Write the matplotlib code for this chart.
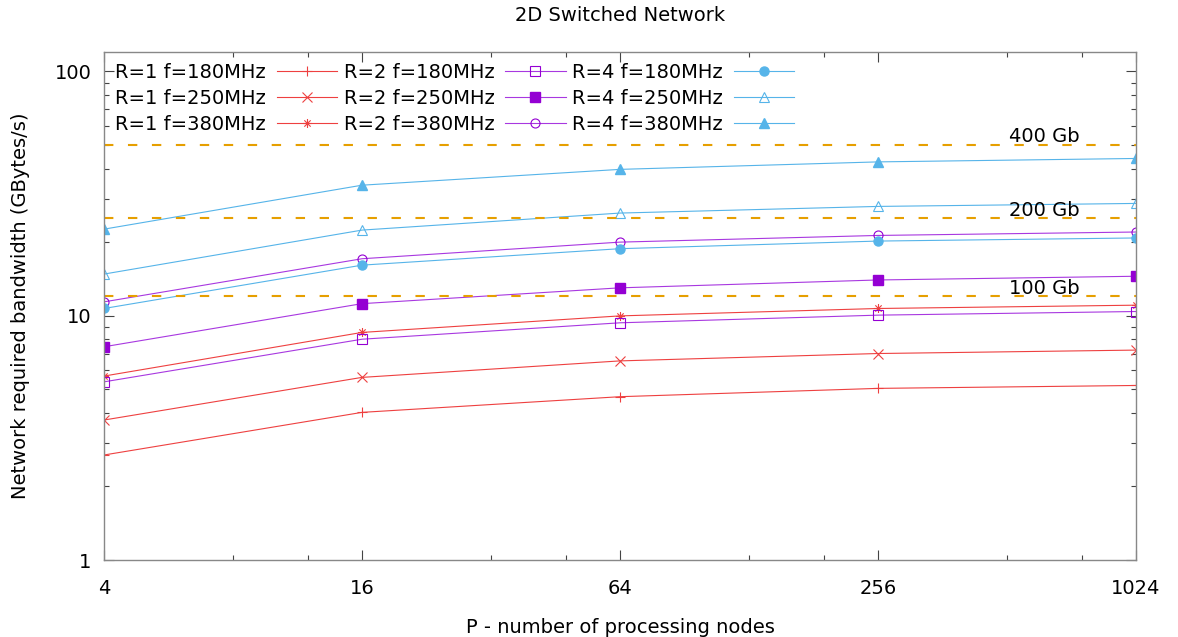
import matplotlib
matplotlib.use("Agg")
import matplotlib.pyplot as plt
from matplotlib.path import Path
from matplotlib.ticker import FixedLocator, NullFormatter
import matplotlib.transforms as mtransforms

# Datos
nodes = [4, 16, 64, 256, 1024]

r1_f180 = [2.69, 4.02, 4.66, 5.04, 5.18]
r1_f250 = [3.74, 5.59, 6.53, 7.00, 7.23]
r1_f380 = [5.66, 8.54, 9.98, 10.7, 11.04]
r2_f180 = [5.36, 8.01, 9.35, 10.05, 10.4]
r2_f250 = [7.46, 11.2, 13.0, 14.0, 14.5]
r2_f380 = [11.39, 17.1, 20.0, 21.3, 22.0]
r4_f180 = [10.7, 16.1, 18.8, 20.2, 20.8]
r4_f250 = [14.8, 22.4, 26.3, 28.0, 28.8]
r4_f380 = [22.6, 34.2, 39.7, 42.6, 44.0]

labels = ["R=1 f=180MHz", "R=1 f=250MHz", "R=1 f=380MHz",
          "R=2 f=180MHz", "R=2 f=250MHz", "R=2 f=380MHz",
          "R=4 f=180MHz", "R=4 f=250MHz", "R=4 f=380MHz"]

limits = [50, 25, 12]
limit_labels = ["400 Gb", "200 Gb", "100 Gb"]

x_major = [4, 16, 64, 256, 1024]
x_minor = [8, 12, 32, 48, 128, 192, 512, 768]

# estrella de gnuplot (pt 3): + y x juntos
star = Path([(-1, 0), (1, 0), (0, -1), (0, 1),
             (-0.7, -0.7), (0.7, 0.7), (-0.7, 0.7), (0.7, -0.7)],
            [Path.MOVETO, Path.LINETO] * 4)

red = "#ee4040"
purple = "#9400d3"
blue = "#56b4e9"
orange = "#e69f00"

series = [
    (r1_f180, red, red, "+", "none"),
    (r1_f250, red, red, "x", "none"),
    (r1_f380, red, red, star, "none"),
    (r2_f180, "#a838e0", purple, "s", "none"),
    (r2_f250, "#a838e0", purple, "s", "full"),
    (r2_f380, "#a838e0", purple, "o", "none"),
    (r4_f180, blue, blue, "o", "full"),
    (r4_f250, blue, blue, "^", "none"),
    (r4_f380, blue, blue, "^", "full"),
]

plt.rcParams['font.family'] = ['DejaVu Sans']

fig = plt.figure(figsize=(11.78, 6.37), dpi=100)
ax = fig.add_axes([104 / 1178, 1 - 560 / 637, 1032 / 1178, 508 / 637])

for (vals, lc, mc, mk, fill), lab in zip(series, labels):
    if fill == "full":
        ax.plot(nodes, vals, color=lc, lw=0.8, marker=mk, markersize=6.5,
                markerfacecolor=mc, markeredgecolor=mc, label=lab)
    else:
        ax.plot(nodes, vals, color=lc, lw=0.8, marker=mk, markersize=6.5,
                markerfacecolor="none", markeredgecolor=mc, markeredgewidth=0.8,
                label=lab)

trans = mtransforms.blended_transform_factory(ax.transAxes, ax.transData)
for v, t in zip(limits, limit_labels):
    ax.axhline(v, color=orange, lw=1.5, dashes=(4.5, 7))
    ax.annotate(t, xy=(0.911, v), xycoords=trans, xytext=(0, 8),
                textcoords="offset pixels", ha="center", va="center",
                fontsize=14)

ax.set_xscale("log", base=2)
ax.set_yscale("log")
ax.set_xlim(4, 1024)
ax.set_ylim(1, 120)

ax.xaxis.set_major_locator(FixedLocator(x_major))
ax.xaxis.set_minor_locator(FixedLocator(x_minor))
ax.xaxis.set_minor_formatter(NullFormatter())
ax.set_xticklabels([str(v) for v in x_major])
ax.set_yticks([1, 10, 100])
ax.set_yticklabels(["1", "10", "100"])
ax.yaxis.set_minor_formatter(NullFormatter())

ax.tick_params(which="both", direction="in", top=True, right=True,
               color="#444444", labelsize=14)
ax.tick_params(axis="x", which="major", length=7, width=0.8, pad=14)
ax.tick_params(axis="y", which="major", length=7, width=0.8, pad=9)
ax.tick_params(which="minor", length=3.6, width=0.8)
for sp in ax.spines.values():
    sp.set_color("#888888")
    sp.set_linewidth(1.0)

ax.set_title("2D Switched Network", fontsize=14, pad=22)
ax.set_xlabel("P - number of processing nodes", fontsize=14, labelpad=14)
ax.set_ylabel("Network required bandwidth (GBytes/s)", fontsize=14, labelpad=18)

ax.legend(loc="upper left", bbox_to_anchor=(0.0107, 0.978), ncol=3,
          markerfirst=False, frameon=False, fontsize=14, handlelength=3.1,
          handletextpad=0.55, columnspacing=0.35, labelspacing=0.36,
          borderpad=0, borderaxespad=0)

fig.savefig("out.png", dpi=100)
